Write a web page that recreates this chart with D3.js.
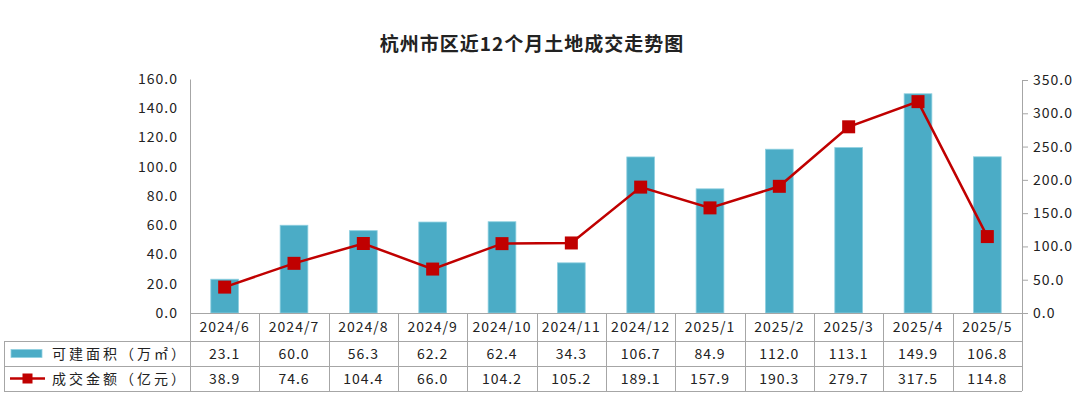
<!DOCTYPE html>
<meta charset="utf-8">
<style type="text/css">
    body { margin: 0; background: #fff; }
    text { font-family: "Noto Sans CJK SC", "Noto Sans", sans-serif; fill: #222; }
    .title { font-size: 19px; font-weight: bold; letter-spacing: 1px; }
    .tick-label { font-size: 14px; letter-spacing: 1px; }
    .cell { font-size: 14px; letter-spacing: 1px; }
    .grid { stroke: #a6a6a6; stroke-width: 1; shape-rendering: crispEdges; }
    .bar { fill: #4bacc6; stroke: #8fd0e0; stroke-width: 0.8; }
    .line { fill: none; stroke: #c00000; stroke-width: 2.5; }
    .dot { fill: #c00000; }
</style>
<body></body>
<script src="https://cdn.jsdelivr.net/npm/d3@7"></script>
<script>
    // data
    var months = ["2024/6", "2024/7", "2024/8", "2024/9", "2024/10", "2024/11",
                  "2024/12", "2025/1", "2025/2", "2025/3", "2025/4", "2025/5"];
    var area = [23.1, 60.0, 56.3, 62.2, 62.4, 34.3, 106.7, 84.9, 112.0, 113.1, 149.9, 106.8];
    var amount = [38.9, 74.6, 104.4, 66.0, 104.2, 105.2, 189.1, 157.9, 190.3, 279.7, 317.5, 114.8];
    var leftTicks = [0, 20, 40, 60, 80, 100, 120, 140, 160];
    var rightTicks = [0, 50, 100, 150, 200, 250, 300, 350];
    var seriesNames = ["可建面积（万㎡）", "成交金额（亿元）"];

    var W = 1080, H = 397;
    var plot = {left: 190, right: 1022, top: 79, bottom: 313};
    var rowH = [28, 25, 25]; // category row, area row, amount row
    var legendLeft = 4;

    var svg = d3.select("body").append("svg")
        .attr("width", W)
        .attr("height", H);

    // title
    svg.append("text")
        .attr("class", "title")
        .attr("x", 532)
        .attr("y", 51)
        .attr("text-anchor", "middle")
        .text("杭州市区近12个月土地成交走势图");

    var x = d3.scaleBand()
        .domain(months)
        .range([plot.left, plot.right])
        .paddingInner(0.6)
        .paddingOuter(0.3);

    var xCell = d3.scaleBand()
        .domain(months)
        .range([plot.left, plot.right]);

    var yLeft = d3.scaleLinear().domain([0, 160]).range([plot.bottom, plot.top]);
    var yRight = d3.scaleLinear().domain([0, 350]).range([plot.bottom, plot.top + 1]);

    // left axis: line only, labels
    var gl = svg.append("g")
        .attr("transform", "translate(" + plot.left + ",0)")
        .call(d3.axisLeft(yLeft).tickValues(leftTicks).tickSize(0).tickPadding(12)
            .tickFormat(d3.format(".1f")));
    gl.select(".domain").attr("stroke", "#a6a6a6");
    gl.selectAll("text").attr("class", "tick-label").attr("font-family", null).attr("font-size", null);

    // right axis with outward ticks
    var gr = svg.append("g")
        .attr("transform", "translate(" + plot.right + ",0)")
        .call(d3.axisRight(yRight).tickValues(rightTicks).tickSizeInner(6).tickSizeOuter(0).tickPadding(5)
            .tickFormat(d3.format(".1f")));
    gr.select(".domain").attr("stroke", "#a6a6a6");
    gr.selectAll(".tick line").attr("stroke", "#a6a6a6");
    gr.selectAll("text").attr("class", "tick-label").attr("font-family", null).attr("font-size", null);

    // bars
    svg.selectAll(".bar")
        .data(area)
        .enter().append("rect")
        .attr("class", "bar")
        .attr("x", function(d, i) { return x(months[i]); })
        .attr("y", function(d) { return yLeft(d); })
        .attr("width", x.bandwidth())
        .attr("height", function(d) { return plot.bottom - yLeft(d); });

    // line + markers
    var line = d3.line()
        .x(function(d, i) { return x(months[i]) + x.bandwidth() / 2; })
        .y(function(d) { return yRight(d); });

    svg.append("path")
        .datum(amount)
        .attr("class", "line")
        .attr("d", line);

    var m = 13;
    svg.selectAll(".dot")
        .data(amount)
        .enter().append("rect")
        .attr("class", "dot")
        .attr("x", function(d, i) { return x(months[i]) + x.bandwidth() / 2 - m / 2; })
        .attr("y", function(d) { return yRight(d) - m / 2; })
        .attr("width", m)
        .attr("height", m);

    // data table
    var rowTop = [plot.bottom, plot.bottom + rowH[0], plot.bottom + rowH[0] + rowH[1]];
    var tableBottom = rowTop[2] + rowH[2];
    var table = svg.append("g");

    // horizontal lines
    table.append("line").attr("class", "grid")
        .attr("x1", plot.left).attr("x2", plot.right)
        .attr("y1", plot.bottom + 0.5).attr("y2", plot.bottom + 0.5);
    [rowTop[1], rowTop[2], tableBottom].forEach(function(yv) {
        table.append("line").attr("class", "grid")
            .attr("x1", legendLeft).attr("x2", plot.right)
            .attr("y1", yv + 0.5).attr("y2", yv + 0.5);
    });
    // vertical lines
    months.forEach(function(mo) {
        table.append("line").attr("class", "grid")
            .attr("x1", xCell(mo) + 0.5).attr("x2", xCell(mo) + 0.5)
            .attr("y1", plot.bottom).attr("y2", tableBottom);
    });
    table.append("line").attr("class", "grid")
        .attr("x1", plot.right + 0.5).attr("x2", plot.right + 0.5)
        .attr("y1", plot.bottom).attr("y2", tableBottom);
    table.append("line").attr("class", "grid")
        .attr("x1", legendLeft + 0.5).attr("x2", legendLeft + 0.5)
        .attr("y1", rowTop[1]).attr("y2", tableBottom);

    // category labels
    table.selectAll(".cat")
        .data(months)
        .enter().append("text")
        .attr("class", "cell")
        .attr("x", function(d) { return xCell(d) + xCell.bandwidth() / 2; })
        .attr("y", rowTop[0] + rowH[0] / 2)
        .attr("dy", "0.36em")
        .attr("text-anchor", "middle")
        .text(function(d) { return d; });

    [area, amount].forEach(function(vals, r) {
        table.selectAll(".v" + r)
            .data(vals)
            .enter().append("text")
            .attr("class", "cell")
            .attr("x", function(d, i) { return xCell(months[i]) + xCell.bandwidth() / 2; })
            .attr("y", rowTop[r + 1] + rowH[r + 1] / 2)
            .attr("dy", "0.36em")
            .attr("text-anchor", "middle")
            .text(function(d) { return d3.format(".1f")(d); });
    });

    // legend keys
    var ly1 = rowTop[1] + rowH[1] / 2, ly2 = rowTop[2] + rowH[2] / 2;
    table.append("rect").attr("class", "bar").attr("stroke", "none")
        .attr("x", 11).attr("y", ly1 - 4).attr("width", 31).attr("height", 8);
    table.append("line").attr("stroke", "#c00000").attr("stroke-width", 2.5)
        .attr("x1", 10).attr("x2", 45).attr("y1", ly2).attr("y2", ly2);
    table.append("rect").attr("class", "dot")
        .attr("x", 27.5 - 5).attr("y", ly2 - 5).attr("width", 10).attr("height", 10);
    table.selectAll(".lg")
        .data(seriesNames)
        .enter().append("text")
        .attr("class", "cell")
        .attr("x", 52)
        .attr("y", function(d, i) { return i === 0 ? ly1 : ly2; })
        .attr("dy", "0.36em")
        .style("letter-spacing", "3px")
        .text(function(d) { return d; });
</script>
